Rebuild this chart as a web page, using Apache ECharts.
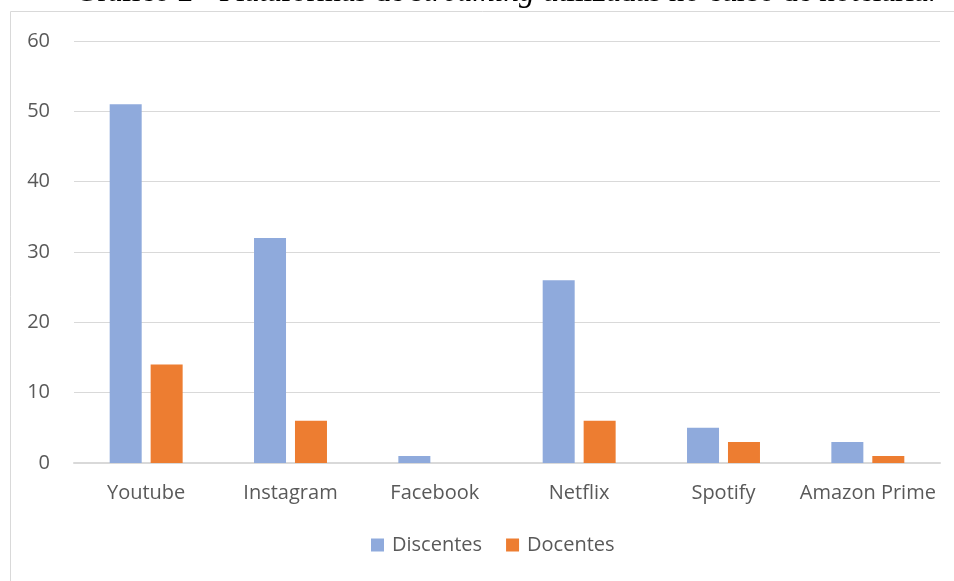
<!DOCTYPE html>
<html><head><meta charset="utf-8">
<script src="https://cdn.jsdelivr.net/npm/echarts@6/dist/echarts.min.js"></script>
<style>html,body{margin:0;padding:0;background:#fff}#c{width:954px;height:581px}</style>
</head><body><div id="c"></div>
<script>
const categories = ['Youtube', 'Instagram', 'Facebook', 'Netflix', 'Spotify', 'Amazon Prime'];
const discentes = [51, 32, 1, 26, 5, 3];
const docentes = [14, 6, 0, 6, 3, 1];
const chart = echarts.init(document.getElementById('c'));
const font = 'Open Sans';
chart.setOption({
  animation: false,
  graphic: [
    { type: 'rect', shape: { x: 10.5, y: 11.5, width: 960, height: 580 }, style: { fill: 'none', stroke: '#d9d9d9', lineWidth: 1 } },
    { type: 'text', left: 75, top: -23, style: {
      text: '{n|Gráfico 2 - Plataformas de }{i|streaming}{n| utilizadas no curso de hotelaria.}',
      rich: {
        n: { fontFamily: 'Liberation Serif', fontSize: 31, fontWeight: 'normal', fill: '#000' },
        i: { fontFamily: 'Liberation Serif', fontSize: 31, fontWeight: 'normal', fontStyle: 'italic', fill: '#000' }
      } } }
  ],
  grid: { left: 74, right: 14, top: 41, bottom: 118 },
  legend: {
    bottom: 21, left: 366, itemWidth: 13, itemHeight: 13, itemGap: 24,
    icon: 'rect',
    textStyle: { fontFamily: font, fontSize: 20, color: '#595959', padding: [0, 0, 0, 3] },
    data: ['Discentes', 'Docentes']
  },
  xAxis: {
    type: 'category', data: categories,
    axisLine: { lineStyle: { color: '#d9d9d9', width: 2 } },
    axisTick: { show: false },
    axisLabel: { fontFamily: font, fontSize: 20, color: '#595959', margin: 20, interval: 0 }
  },
  yAxis: {
    type: 'value', min: 0, max: 60, interval: 10,
    axisLine: { show: false }, axisTick: { show: false },
    splitLine: { lineStyle: { color: '#d9d9d9', width: 1 } },
    axisLabel: { fontFamily: font, fontSize: 20, color: '#595959', margin: 24 }
  },
  series: [
    { name: 'Discentes', type: 'bar', data: discentes, barWidth: 32, barGap: '28%', itemStyle: { color: '#8faadc' } },
    { name: 'Docentes', type: 'bar', data: docentes, barWidth: 32, itemStyle: { color: '#ed7d31' } }
  ]
});
</script></body></html>
